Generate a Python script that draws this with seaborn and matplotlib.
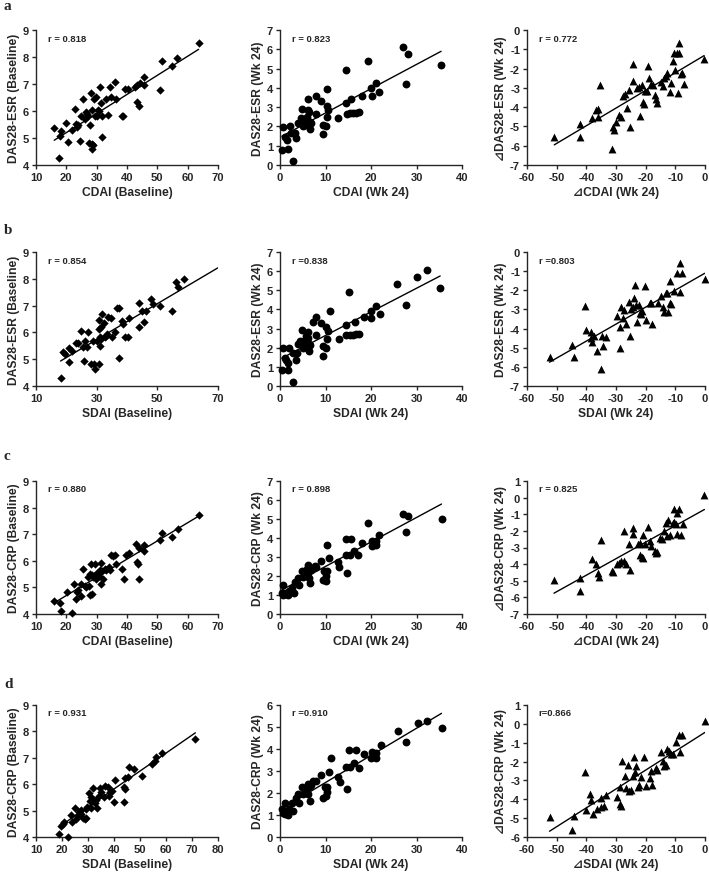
import numpy as np
import pandas as pd
import matplotlib
matplotlib.use("Agg")
import matplotlib.pyplot as plt
import seaborn as sns

# ---------------- data ----------------
# Panel a1: CDAI (Baseline) vs DAS28-ESR (Baseline)
a1_x = [16.0, 17.5, 17.9, 18.4, 20.0, 20.6, 22.0, 22.7, 23.2, 23.4, 24.0, 24.6, 25.0, 25.6, 26.0, 26.4,
        26.9, 27.2, 27.5, 27.8, 28.0, 28.3, 28.3, 28.4, 28.9, 29.2, 29.4, 29.7, 30.0, 30.3, 30.7, 31.0,
        31.4, 31.6, 31.9, 33.0, 33.6, 34.3, 34.6, 36.0, 36.3, 38.2, 38.7, 39.3, 40.4, 42.6, 43.2, 43.4,
        43.8, 44.2, 45.5, 45.7, 50.8, 51.6, 54.8, 56.5, 63.6]
a1_y = [5.37, 4.25, 5.07, 5.25, 5.57, 4.85, 5.28, 6.06, 5.53, 5.40, 5.47, 4.88, 5.80, 6.45, 5.70, 5.95,
        5.90, 5.80, 4.80, 5.47, 6.65, 6.05, 4.77, 4.58, 4.75, 6.45, 5.80, 6.52, 5.80, 6.05, 6.00, 6.90,
        6.30, 5.80, 5.03, 6.45, 5.85, 6.90, 6.52, 7.07, 6.45, 5.83, 5.80, 6.80, 6.80, 6.90, 6.97, 6.35,
        6.18, 7.05, 7.25, 6.97, 6.77, 7.87, 7.67, 7.97, 8.53]

# Panel a2: CDAI (Wk 24) vs DAS28-ESR (Wk 24)
a2_x = [0.4, 0.6, 1.0, 1.5, 1.8, 2.1, 2.4, 2.9, 3.2, 3.5, 4.0, 4.6, 4.8, 5.0, 5.3, 5.5, 5.9, 6.1, 6.2,
        6.4, 6.5, 6.6, 6.8, 7.9, 7.9, 9.0, 9.4, 9.5, 10.1, 10.3, 10.3, 10.4, 10.6, 12.8, 14.5, 14.5,
        14.8, 15.4, 15.6, 16.1, 16.7, 17.4, 18.1, 19.4, 20.0, 20.2, 21.1, 21.8, 27.0, 27.7, 28.1, 35.4]
a2_y = [0.80, 1.95, 1.46, 1.32, 0.85, 2.02, 1.64, 0.23, 1.67, 1.38, 2.16, 2.42, 2.89, 2.02, 2.33, 2.10,
        2.51, 3.41, 2.86, 2.77, 2.25, 1.85, 2.16, 3.60, 2.63, 3.33, 2.10, 1.60, 2.02, 3.08, 3.94, 2.47,
        2.86, 2.46, 4.91, 3.20, 2.64, 2.68, 3.41, 2.72, 2.72, 2.74, 3.60, 5.38, 3.99, 3.60, 4.25, 3.78,
        6.13, 4.21, 5.73, 5.16]

# Panel a3: delta CDAI vs delta DAS28-ESR
a3_x = [-50.8, -42.1, -42.1, -38.0, -36.7, -35.9, -35.9, -35.4, -31.4, -31.1, -30.8, -30.1, -28.9,
        -28.2, -27.5, -27.1, -26.3, -25.5, -25.2, -24.4, -24.4, -22.9, -22.1, -21.8, -21.2, -20.9,
        -20.7, -20.3, -19.5, -19.3, -18.8, -18.1, -17.5, -16.7, -16.5, -16.2, -15.0, -14.1, -13.9,
        -13.3, -12.8, -11.9, -11.3, -10.7, -10.3, -10.2, -9.6, -9.2, -8.8, -8.6, -8.2, -7.7, -7.1, -0.3]
a3_y = [-5.53, -4.89, -5.53, -4.54, -4.16, -4.11, -4.49, -2.87, -6.17, -5.03, -5.18, -4.77, -4.40,
        -4.49, -3.42, -3.33, -4.02, -3.11, -5.03, -1.78, -2.64, -2.99, -2.94, -4.46, -2.87, -3.73,
        -3.85, -3.16, -3.16, -1.87, -2.47, -2.78, -2.87, -3.39, -3.56, -3.80, -2.69, -2.90, -2.50,
        -2.38, -2.21, -3.21, -2.73, -1.61, -1.17, -2.07, -1.17, -3.25, -1.17, -0.66, -2.30, -2.21,
        -2.78, -1.49]

# Panel b1: SDAI (Baseline) vs DAS28-ESR (Baseline)
b1_x = [18.1, 19.0, 19.5, 20.8, 20.8, 22.0, 23.1, 23.9, 25.0, 25.5, 25.7, 26.1, 26.8, 27.2, 28.0, 28.8,
        29.1, 29.3, 30.2, 30.7, 30.7, 30.8, 31.0, 31.2, 31.3, 31.5, 31.9, 32.4, 32.6, 33.0, 33.4, 33.7,
        34.8, 35.0, 35.9, 36.8, 37.5, 37.5, 38.4, 38.6, 39.5, 40.3, 40.8, 43.9, 44.1, 45.0, 45.5, 46.1,
        47.9, 48.7, 51.0, 54.8, 56.1, 56.7, 58.9]
b1_y = [4.31, 5.28, 5.19, 5.40, 4.90, 5.31, 5.60, 5.60, 6.06, 5.46, 4.94, 5.69, 5.46, 6.00, 4.81, 5.69,
        4.81, 4.63, 5.69, 4.81, 6.13, 6.46, 5.84, 5.50, 6.19, 5.75, 6.69, 6.34, 5.81, 5.88, 5.94, 6.56,
        6.53, 5.81, 6.00, 6.90, 6.90, 5.04, 6.44, 6.31, 5.84, 5.81, 6.53, 7.09, 6.19, 6.81, 6.38, 6.81,
        7.25, 7.06, 6.98, 6.78, 7.88, 7.69, 7.98]

# Panel b2: SDAI (Wk 24) vs DAS28-ESR (Wk 24)
b2_x = [0.4, 0.6, 1.0, 1.3, 1.7, 1.7, 2.0, 2.8, 2.9, 3.5, 3.7, 4.0, 4.5, 4.8, 5.0, 5.3, 5.5, 5.8, 6.1,
        6.2, 6.4, 6.4, 6.7, 7.2, 7.9, 7.9, 9.0, 9.4, 9.5, 10.1, 10.2, 10.4, 10.6, 11.0, 12.9, 14.5, 14.6,
        15.1, 15.4, 16.1, 16.5, 16.8, 17.3, 18.4, 20.0, 20.0, 21.1, 21.9, 25.7, 27.6, 30.1, 32.2, 35.2]
b2_y = [0.82, 1.96, 1.48, 1.34, 1.22, 0.83, 2.00, 0.23, 1.74, 1.35, 1.70, 2.17, 2.34, 2.90, 2.00, 2.34,
        2.12, 2.61, 2.81, 2.52, 2.21, 1.82, 2.12, 3.34, 3.60, 2.66, 3.30, 2.08, 1.56, 2.00, 3.07, 2.47,
        2.87, 3.91, 2.43, 3.18, 2.64, 4.90, 2.69, 2.69, 3.35, 2.73, 2.73, 3.60, 3.56, 3.94, 4.20, 3.77,
        5.35, 4.22, 5.68, 6.08, 5.12]

# Panel b3: delta SDAI vs delta DAS28-ESR
b3_x = [-52.4, -44.7, -44.2, -40.6, -40.2, -38.5, -38.3, -38.1, -37.4, -36.3, -35.2, -34.7, -34.4,
        -33.3, -29.6, -28.8, -28.8, -28.2, -27.6, -27.4, -26.5, -25.6, -25.4, -24.8, -24.3, -23.9,
        -23.7, -23.1, -22.8, -22.4, -22.0, -21.5, -21.1, -20.3, -20.0, -18.7, -18.1, -17.8, -15.8,
        -14.7, -14.2, -13.8, -13.3, -12.8, -12.5, -11.9, -11.9, -11.3, -10.6, -9.4, -8.5, -8.5, -7.6, -0.1]
b3_y = [-5.50, -4.85, -5.50, -2.82, -4.09, -4.18, -4.48, -4.71, -4.41, -5.15, -6.12, -4.39, -4.92,
        -4.44, -3.33, -3.92, -5.03, -2.89, -3.44, -3.03, -3.77, -2.59, -4.41, -3.00, -2.89, -2.42,
        -1.71, -2.77, -3.65, -2.77, -3.17, -3.26, -3.09, -1.76, -3.56, -2.65, -2.65, -3.77, -2.68,
        -2.29, -2.89, -3.16, -2.15, -2.15, -3.16, -1.53, -2.68, -2.72, -2.06, -1.09, -2.10, -0.56,
        -1.09, -1.41]

# Panel c1: CDAI (Baseline) vs DAS28-CRP (Baseline)
c1_x = [16.0, 17.9, 18.4, 20.1, 22.0, 22.6, 23.1, 23.6, 23.9, 24.8, 25.0, 25.5, 26.1, 26.4, 27.2, 27.5,
        27.7, 27.9, 28.0, 28.3, 28.5, 28.8, 29.3, 29.6, 29.9, 30.2, 30.7, 31.0, 31.3, 31.5, 31.9, 32.1,
        32.6, 33.2, 34.0, 34.5, 34.6, 35.4, 35.9, 36.4, 38.4, 38.9, 39.7, 40.8, 43.0, 43.2, 43.6, 43.8,
        43.9, 45.5, 45.5, 51.0, 51.4, 54.8, 56.7, 63.6]
c1_y = [4.50, 4.40, 4.13, 4.82, 4.03, 5.13, 4.57, 4.84, 4.92, 4.69, 5.13, 5.68, 5.07, 5.03, 5.39, 5.07,
        5.49, 4.72, 5.89, 5.45, 4.76, 5.39, 5.89, 5.45, 5.32, 5.55, 5.41, 5.64, 5.91, 5.13, 5.60, 5.32,
        5.70, 5.66, 5.76, 5.64, 6.20, 6.17, 6.23, 5.89, 5.70, 5.32, 6.23, 6.29, 6.64, 5.95, 5.89, 5.32,
        6.49, 6.61, 6.37, 6.77, 7.05, 6.90, 7.21, 7.72]

# Panel c2: CDAI (Wk 24) vs DAS28-CRP (Wk 24)
c2_x = [0.4, 0.6, 0.7, 1.0, 1.3, 1.7, 2.0, 2.6, 3.1, 3.3, 4.0, 4.2, 4.8, 5.1, 5.5, 5.7, 5.9, 6.1, 6.2,
        6.4, 6.4, 6.6, 6.8, 7.7, 8.0, 9.0, 9.5, 9.7, 10.1, 10.2, 10.4, 10.4, 10.8, 12.7, 13.0, 14.5,
        14.6, 14.8, 15.4, 15.6, 16.3, 17.2, 18.1, 19.4, 20.3, 20.3, 21.1, 21.2, 21.8, 27.1, 27.8, 28.2, 35.5]
c2_y = [1.12, 0.99, 1.53, 1.08, 1.03, 0.99, 1.21, 1.35, 1.12, 1.71, 1.92, 1.53, 2.24, 1.97, 2.24, 2.06,
        2.38, 2.56, 2.15, 2.47, 1.88, 1.62, 2.33, 2.54, 2.47, 2.81, 1.79, 2.24, 1.74, 2.01, 2.24, 3.61,
        2.95, 2.72, 2.50, 3.96, 3.13, 2.18, 3.13, 3.96, 3.30, 3.13, 3.75, 4.81, 3.84, 3.57, 3.84, 3.61,
        4.14, 5.26, 4.32, 5.17, 4.99]

# Panel c3: delta CDAI vs delta DAS28-CRP
c3_x = [-50.9, -42.2, -42.2, -38.0, -36.9, -36.0, -35.7, -35.1, -31.2, -31.0, -29.8, -29.0, -28.4,
        -27.4, -27.2, -26.5, -25.7, -25.3, -24.2, -24.2, -22.5, -21.9, -21.9, -21.4, -21.0, -20.8,
        -20.3, -19.1, -18.6, -18.2, -16.9, -16.5, -16.1, -15.2, -14.6, -13.7, -13.2, -12.9, -12.6,
        -11.8, -10.9, -10.5, -10.4, -9.8, -9.6, -9.3, -8.7, -8.1, -7.5, -0.2]
c3_y = [-4.94, -4.84, -5.64, -3.70, -4.00, -4.56, -4.80, -2.56, -4.40, -4.50, -4.00, -3.96, -3.84,
        -2.00, -3.80, -4.00, -2.76, -4.36, -1.80, -2.20, -2.80, -2.70, -3.46, -3.56, -2.26, -3.64,
        -2.80, -1.74, -2.60, -2.90, -3.24, -3.36, -3.30, -2.40, -2.50, -2.00, -1.54, -2.30, -1.34,
        -2.24, -1.50, -1.44, -0.66, -1.60, -0.94, -2.20, -0.66, -2.26, -1.60, 0.14]

# Panel d1: SDAI (Baseline) vs DAS28-CRP (Baseline)
d1_x = [18.9, 19.5, 20.2, 20.8, 22.3, 23.4, 24.0, 24.9, 25.5, 26.2, 26.4, 27.2, 27.4, 28.1, 28.7, 29.1,
        29.3, 29.7, 30.4, 30.9, 31.0, 31.3, 31.6, 31.9, 32.3, 32.5, 33.2, 33.4, 34.1, 34.7, 35.1, 36.0,
        36.7, 37.6, 38.0, 38.6, 39.3, 39.9, 40.5, 43.7, 44.0, 44.4, 44.4, 45.3, 45.6, 47.8, 50.7, 54.8,
        55.8, 56.1, 58.6, 71.3]
d1_y = [4.10, 4.41, 4.50, 4.57, 4.00, 4.82, 4.57, 5.11, 4.69, 4.82, 4.94, 5.03, 4.88, 4.73, 4.69, 4.72,
        5.07, 5.13, 5.66, 5.38, 5.11, 5.51, 5.36, 5.86, 5.41, 5.28, 5.41, 5.11, 5.57, 5.86, 5.70, 5.51,
        5.95, 5.88, 5.57, 5.70, 5.76, 5.32, 6.16, 5.88, 5.32, 5.82, 6.22, 6.29, 6.66, 6.58, 6.32, 6.76,
        6.89, 7.02, 7.18, 7.71]

# Panel d2: SDAI (Wk 24) vs DAS28-CRP (Wk 24)
d2_x = [0.4, 0.6, 1.0, 1.1, 1.5, 1.7, 2.0, 2.6, 2.9, 3.5, 4.0, 4.2, 4.8, 5.1, 5.5, 5.7, 6.1, 6.2, 6.4,
        6.6, 6.8, 7.2, 7.9, 9.0, 9.5, 9.9, 10.1, 10.4, 10.4, 10.8, 11.1, 12.8, 13.2, 14.6, 14.8, 15.2,
        15.4, 16.3, 16.7, 17.4, 18.5, 20.0, 20.3, 21.1, 21.2, 22.3, 26.0, 27.8, 30.3, 32.3, 35.5]
d2_y = [1.26, 1.11, 1.06, 1.53, 1.11, 0.98, 1.26, 1.53, 1.18, 1.79, 1.94, 1.53, 2.27, 1.94, 2.24, 2.06,
        2.39, 1.97, 2.27, 1.64, 2.35, 2.55, 2.55, 2.82, 1.79, 2.27, 1.86, 2.27, 2.06, 2.97, 3.61, 2.73,
        2.52, 3.18, 2.20, 3.95, 3.20, 3.35, 3.95, 3.15, 3.76, 3.58, 3.86, 3.80, 3.61, 4.17, 4.82, 4.33,
        5.20, 5.27, 4.97]

# Panel d3: delta SDAI vs delta DAS28-CRP
d3_x = [-52.4, -44.3, -44.7, -40.6, -40.2, -38.9, -38.3, -37.8, -36.3, -35.2, -35.2, -34.2, -33.3,
        -29.6, -28.8, -28.8, -28.2, -27.9, -27.1, -26.7, -26.0, -25.6, -24.8, -24.3, -23.9, -23.5,
        -23.1, -22.6, -22.2, -21.5, -20.6, -20.0, -18.7, -18.1, -17.8, -16.6, -16.1, -14.9, -14.2,
        -13.8, -13.3, -12.8, -12.1, -11.3, -10.8, -9.7, -8.8, -8.3, -7.6, 0.0]
d3_y = [-4.94, -4.86, -5.61, -2.57, -4.59, -3.71, -4.03, -4.80, -4.50, -3.94, -4.42, -4.38, -3.77,
        -3.89, -4.24, -3.36, -4.33, -1.99, -2.75, -3.40, -2.17, -3.57, -3.50, -2.75, -1.78, -2.57,
        -2.22, -3.36, -3.24, -2.83, -1.74, -3.27, -2.87, -2.52, -3.22, -2.34, -2.43, -1.51, -1.99,
        -2.22, -2.17, -1.34, -1.43, -1.60, -1.60, -0.95, -0.58, -1.51, -0.58, 0.16]

# labels
x_labels = [["CDAI (Baseline)", "CDAI (Wk 24)", "\u22bfCDAI (Wk 24)"],
            ["SDAI (Baseline)", "SDAI (Wk 24)", "SDAI (Wk 24)"],
            ["CDAI (Baseline)", "CDAI (Wk 24)", "\u22bfCDAI (Wk 24)"],
            ["SDAI (Baseline)", "SDAI (Wk 24)", "\u22bfSDAI (Wk 24)"]]
y_labels = [["DAS28-ESR (Baseline)", "DAS28-ESR (Wk 24)", "\u22bfDAS28-ESR (Wk 24)"],
            ["DAS28-ESR (Baseline)", "DAS28-ESR (Wk 24)", "DAS28-ESR (Wk 24)"],
            ["DAS28-CRP (Baseline)", "DAS28-CRP (Wk 24)", "\u22bfDAS28-CRP (Wk 24)"],
            ["DAS28-CRP (Baseline)", "DAS28-CRP (Wk 24)", "\u22bfDAS28-CRP (Wk 24)"]]
r_labels = [["r = 0.818", "r = 0.823", "r = 0.772"],
            ["r = 0.854", "r =0.838", "r =0.803"],
            ["r = 0.880", "r = 0.898", "r = 0.825"],
            ["r = 0.931", "r =0.910", "r=0.866"]]
row_letters = ["a", "b", "c", "d"]

x_ticks = [[np.arange(10, 71, 10), np.arange(0, 41, 10), np.arange(-60, 1, 10)],
           [np.arange(10, 71, 20), np.arange(0, 41, 10), np.arange(-60, 1, 10)],
           [np.arange(10, 71, 10), np.arange(0, 41, 10), np.arange(-60, 1, 10)],
           [np.arange(10, 81, 10), np.arange(0, 41, 10), np.arange(-60, 1, 10)]]
y_ticks = [[np.arange(4, 10), np.arange(0, 8), np.arange(-7, 1)],
           [np.arange(4, 10), np.arange(0, 8), np.arange(-7, 1)],
           [np.arange(4, 10), np.arange(0, 8), np.arange(-7, 2)],
           [np.arange(4, 10), np.arange(0, 7), np.arange(-6, 2)]]

xs = [[a1_x, a2_x, a3_x], [b1_x, b2_x, b3_x], [c1_x, c2_x, c3_x], [d1_x, d2_x, d3_x]]
ys = [[a1_y, a2_y, a3_y], [b1_y, b2_y, b3_y], [c1_y, c2_y, c3_y], [d1_y, d2_y, d3_y]]

# ---------------- style ----------------
sns.set_style("ticks")
plt.rcParams["font.family"] = ["Liberation Sans", "DejaVu Sans"]
plt.rcParams["font.weight"] = "bold"
plt.rcParams["axes.labelweight"] = "bold"
plt.rcParams["axes.unicode_minus"] = False

W, H = 709, 878
fig = plt.figure(figsize=(W / 100, H / 100), dpi=100)

col_left = [36, 280, 527]
col_width = [182, 182, 178]
row_top = [31, 253, 482, 706]
row_bottom = [166, 387, 615, 838]
letter_y = [7, 230, 457, 685]

markers = ["D", "o", "^"]
msizes = [18, 32, 32]
extend_line = [[False, False, False], [True, False, False],
               [False, False, False], [False, False, False]]

for r in range(4):
    for c in range(3):
        ax = fig.add_axes([col_left[c] / W, 1 - row_bottom[r] / H,
                           col_width[c] / W, (row_bottom[r] - row_top[r]) / H])
        x = np.array(xs[r][c]); y = np.array(ys[r][c])
        df = pd.DataFrame({"x": x, "y": y})
        xt = x_ticks[r][c]; yt = y_ticks[r][c]
        ax.set_xlim(xt[0], xt[-1]); ax.set_ylim(yt[0], yt[-1])
        sns.scatterplot(data=df, x="x", y="y", ax=ax, marker=markers[c], s=msizes[c],
                        color="black", edgecolor="black", linewidth=0, clip_on=False, zorder=3)
        k, b0 = np.polyfit(x, y, 1)
        x_end = xt[-1] if extend_line[r][c] else x.max()
        lx = np.array([x.min(), x_end])
        sns.lineplot(x=lx, y=k * lx + b0, ax=ax, color="black", linewidth=1.0, zorder=2)
        ax.set_xticks(xt); ax.set_yticks(yt)
        ax.tick_params(direction="out", length=3, width=1, labelsize=8, pad=2)
        for lab in ax.get_xticklabels() + ax.get_yticklabels():
            lab.set_fontweight("bold")
        for s in ["top", "right"]:
            ax.spines[s].set_visible(False)
        for s in ["left", "bottom"]:
            ax.spines[s].set_linewidth(1.0)
        ax.set_xlabel(x_labels[r][c], fontsize=8.7, fontweight="bold", labelpad=3)
        ax.set_ylabel(y_labels[r][c], fontsize=8.7, fontweight="bold", labelpad=2)
        ax.text(0.065, 0.94, r_labels[r][c], transform=ax.transAxes, fontsize=6.8,
                fontweight="bold", va="center", ha="left")
    fig.text(4 / W, 1 - letter_y[r] / H, row_letters[r], family="Liberation Serif",
             fontsize=11, fontweight="bold", va="center", ha="left")

fig.savefig("out.png", dpi=100)
